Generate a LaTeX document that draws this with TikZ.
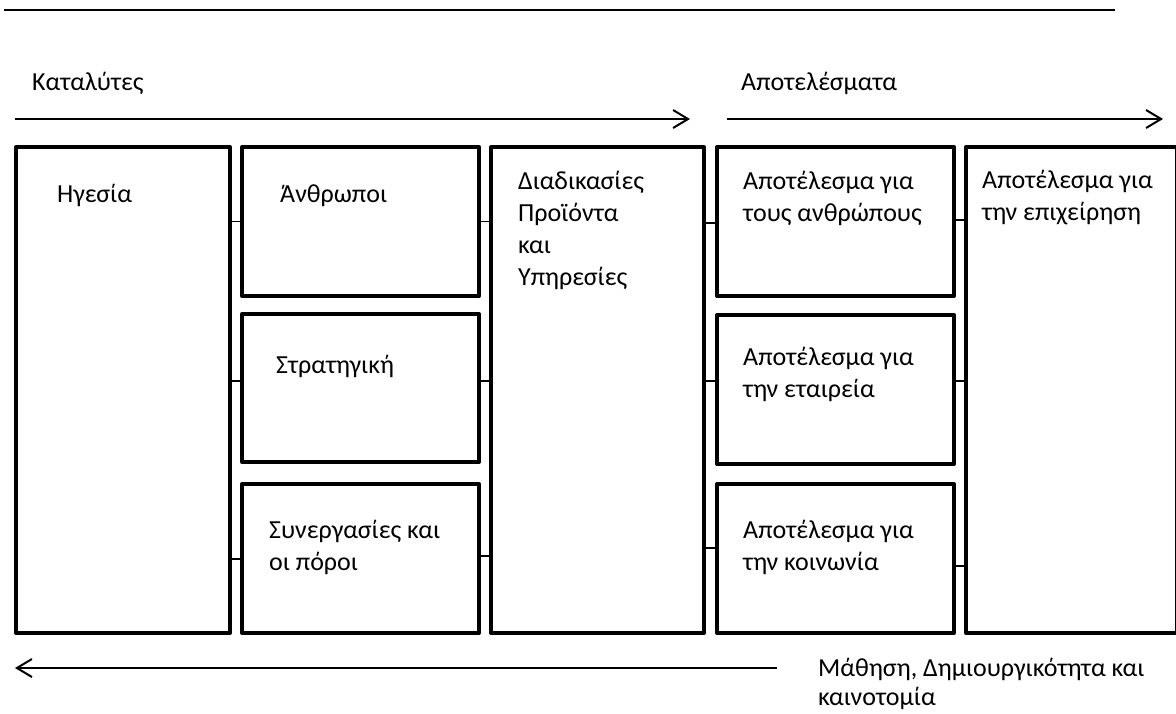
\documentclass[tikz,border=0pt]{standalone}
\usepackage{fontspec}
\setmainfont{Carlito}
\usetikzlibrary{arrows.meta}
\tikzset{
  panel/.style={draw, line width=4pt, line join=round, anchor=north west, inner sep=0pt, minimum width=#1},
  txt/.style={anchor=base west, inner sep=0pt, align=left, font=\fontsize{26}{32}\selectfont},
  tick/.style={line width=1.3pt},
  flow/.style={line width=2pt, -{Straight Barb[length=15pt, width=18pt, line width=2pt]}}
}
\begin{document}
\begin{tikzpicture}[x=1pt, y=-1pt]
  \useasboundingbox (0,0) rectangle (1176,713);
  % header rule
  \coordinate (r1) at (4,10);
  \coordinate (r2) at (1115,10);
  \draw[line width=2pt] (r1) -- (r2);

  % enablers
  \node[panel=214pt, minimum height=486pt] (lead) at (14,145) {};
  \node[panel=237pt, minimum height=149pt] (people) at (240,145) {};
  \node[panel=237pt, minimum height=148pt] (strat) at (240,312) {};
  \node[panel=237pt, minimum height=149pt] (partn) at (240,482) {};
  \node[panel=213pt, minimum height=486pt] (proc) at (489,145) {};
  % results
  \node[panel=237pt, minimum height=149pt] (rpeople) at (715,145) {};
  \node[panel=237pt, minimum height=149pt] (rcomp) at (715,313) {};
  \node[panel=237pt, minimum height=149pt] (rsoc) at (715,482) {};
  \node[panel=211pt, minimum height=486pt] (rbus) at (964,145) {};

  % box texts (multi-line nodes sit on the baseline of their last line)
  \node[txt] (tlead) at (57,202) {Ηγεσία};
  \node[txt] (tpeople) at (280,202) {Άνθρωποι};
  \node[txt] (tstrat) at (276,373) {Στρατηγική};
  \node[txt] (tpartn) at (269,570) {Συνεργασίες και\\οι πόροι};
  \node[txt] (tproc) at (518,285) {Διαδικασίες\\Προϊόντα\\και\\Υπηρεσίες};
  \node[txt] (trpeople) at (743,221) {Αποτέλεσμα για\\τους ανθρώπους};
  \node[txt] (trcomp) at (743,397) {Αποτέλεσμα για\\την εταιρεία};
  \node[txt] (trsoc) at (743,570) {Αποτέλεσμα για\\την κοινωνία};
  \node[txt] (trbus) at (982,220) {Αποτέλεσμα για\\την επιχείρηση};

  % links between neighbouring columns
  \draw[tick] (lead.east |- people.west) -- (people.west);
  \draw[tick] (lead.east |- 0,381) -- (strat.west |- 0,381);
  \draw[tick] (lead.east |- 0,559) -- (partn.west |- 0,559);
  \draw[tick] (people.east) -- (proc.west |- people.east);
  \draw[tick] (strat.east |- 0,381) -- (proc.west |- 0,381);
  \draw[tick] (partn.east |- 0,556) -- (proc.west |- 0,556);
  \draw[tick] (proc.east |- 0,223) -- (rpeople.west |- 0,223);
  \draw[tick] (proc.east |- 0,381) -- (rcomp.west |- 0,381);
  \draw[tick] (proc.east |- 0,548) -- (rsoc.west |- 0,548);
  \draw[tick] (rpeople.east |- 0,220) -- (rbus.west |- 0,220);
  \draw[tick] (rcomp.east |- 0,381) -- (rbus.west |- 0,381);
  \draw[tick] (rsoc.east |- 0,566) -- (rbus.west |- 0,566);

  % direction arrows and captions
  \node[txt] (cat) at (32,90) {Καταλύτες};
  \node[txt] (res) at (741,90) {Αποτελέσματα};
  \coordinate (a1s) at (15,119);
  \coordinate (a1e) at (690,119);
  \coordinate (a2s) at (727,119);
  \coordinate (a2e) at (1163,119);
  \draw[flow] (a1s) -- (a1e);
  \draw[flow] (a2s) -- (a2e);
  \coordinate (a3s) at (777,668);
  \coordinate (a3e) at (15,668);
  \draw[flow] (a3s) -- (a3e);
  \node[txt, font=\fontsize{26}{29}\selectfont] (learn) at (818,705) {Μάθηση, Δημιουργικότητα και\\καινοτομία};
\end{tikzpicture}
\end{document}
